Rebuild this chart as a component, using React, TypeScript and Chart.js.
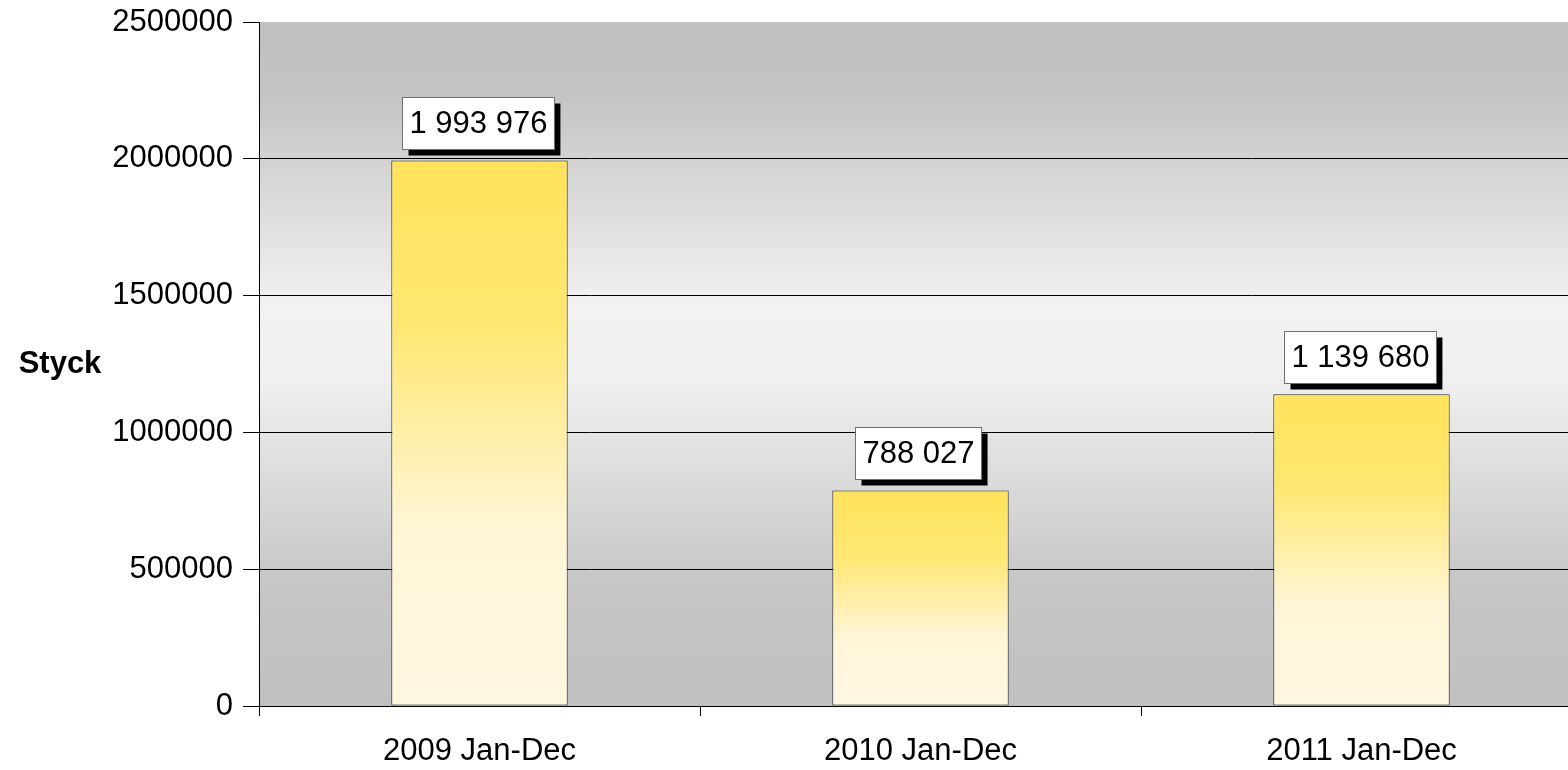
import React, { useEffect, useRef } from "react";
import { Chart, registerables } from "chart.js";

Chart.register(...registerables);

const categories = ["2009 Jan-Dec", "2010 Jan-Dec", "2011 Jan-Dec"];
const values = [1993976, 788027, 1139680];
const valueLabels = ["1 993 976", "788 027", "1 139 680"];
const yTicks = [0, 500000, 1000000, 1500000, 2000000, 2500000];
const yAxisTitle = "Styck";

const FONT = '"Liberation Sans", Arial, sans-serif';

const bgPlugin = {
  id: "bgGrad",
  beforeDraw(chart: any) {
    const { ctx, chartArea } = chart;
    if (!chartArea) return;
    const g = ctx.createLinearGradient(0, chartArea.top, 0, chartArea.bottom);
    g.addColorStop(0, "#c0c0c0");
    g.addColorStop(0.1, "#c3c3c3");
    g.addColorStop(0.42, "#f2f2f2");
    g.addColorStop(0.52, "#f0f0f0");
    g.addColorStop(0.82, "#c6c6c6");
    g.addColorStop(1, "#c0c0c0");
    ctx.save();
    ctx.fillStyle = g;
    ctx.fillRect(chartArea.left, chartArea.top, chartArea.right - chartArea.left, chartArea.bottom - chartArea.top);
    ctx.restore();
  },
};

const labelPlugin = {
  id: "boxLabels",
  afterDatasetsDraw(chart: any) {
    const { ctx } = chart;
    const meta = chart.getDatasetMeta(0);
    ctx.save();
    ctx.font = `31px ${FONT}`;
    meta.data.forEach((el: any, i: number) => {
      const text = valueLabels[i];
      const tw = ctx.measureText(text).width;
      const w = tw + 14;
      const h = 52;
      const cx = el.x - 2;
      const bottom = el.y - 11;
      const x = Math.round(cx - w / 2) + 0.5;
      const y = Math.round(bottom - h) + 0.5;
      ctx.fillStyle = "#000";
      ctx.fillRect(x + 6, y + 6, w, h);
      ctx.fillStyle = "#fff";
      ctx.fillRect(x, y, w, h);
      ctx.strokeStyle = "#707070";
      ctx.lineWidth = 1;
      ctx.strokeRect(x, y, w, h);
      ctx.fillStyle = "#000";
      ctx.textAlign = "center";
      ctx.textBaseline = "middle";
      ctx.fillText(text, x + w / 2, y + h / 2 + 1);
    });
    ctx.restore();
  },
  afterDraw(chart: any) {
    const { ctx, chartArea } = chart;
    ctx.save();
    ctx.font = `bold 31px ${FONT}`;
    ctx.fillStyle = "#000";
    ctx.textAlign = "center";
    ctx.textBaseline = "middle";
    ctx.fillText(yAxisTitle, 60, (chartArea.top + chartArea.bottom) / 2);
    ctx.restore();
  },
};

export default function App() {
  const ref = useRef<HTMLCanvasElement | null>(null);
  useEffect(() => {
    if (!ref.current) return;
    const chart = new Chart(ref.current, {
      type: "bar",
      data: {
        labels: categories,
        datasets: [
          {
            data: values,
            backgroundColor: (c: any) => {
              const ch = c.chart;
              if (!ch.chartArea || !ch.scales.y) return "#FFE45E";
              const ys = ch.scales.y;
              const top = ys.getPixelForValue(c.raw);
              const base = ys.getPixelForValue(0);
              const g = ch.ctx.createLinearGradient(0, top, 0, base);
              g.addColorStop(0, "#FFE35B");
              g.addColorStop(0.3, "#FFE772");
              g.addColorStop(0.68, "#FFF6D8");
              g.addColorStop(1, "#FFF8E1");
              return g;
            },
            borderColor: "#2a2a2a",
            borderWidth: 1,
            borderSkipped: false,
            barPercentage: 0.4,
            categoryPercentage: 1,
          },
        ],
      },
      options: {
        responsive: false,
        animation: false,
        layout: { padding: { top: 22, left: 0, right: 0, bottom: 0 } },
        plugins: { legend: { display: false }, tooltip: { enabled: false } },
        scales: {
          x: {
            offset: true,
            grid: { offset: true, drawOnChartArea: false, color: "#000", tickLength: 10, tickColor: "#000" },
            border: { color: "#000", width: 1 },
            ticks: { color: "#000", font: { family: FONT, size: 31 }, padding: 17, maxRotation: 0 },
            afterFit: (s: any) => { s.height = 64; s.paddingLeft = 0; s.paddingRight = 0; },
          },
          y: {
            min: 0,
            max: 2500000,
            afterBuildTicks: (s: any) => { s.ticks = yTicks.map((v) => ({ value: v })); },
            grid: {
              color: (c: any) => (c.tick && c.tick.value === 2500000 ? "rgba(0,0,0,0)" : "#000"),
              tickColor: "#000",
              tickLength: 16,
              lineWidth: 1,
            },
            border: { color: "#000", width: 1 },
            ticks: { color: "#000", font: { family: FONT, size: 31 }, padding: 10, callback: (v: any) => String(v) },
            afterFit: (s: any) => { s.width = 259; s.paddingTop = 0; s.paddingBottom = 0; },
          },
        },
      },
      plugins: [bgPlugin, labelPlugin],
    });
    return () => chart.destroy();
  }, []);
  return (
    <div style={{ position: "fixed", left: 0, top: 0, width: 1568, height: 770, overflow: "hidden", background: "#fff" }}>
      <canvas ref={ref} width={1582} height={770} style={{ display: "block" }} />
    </div>
  );
}
